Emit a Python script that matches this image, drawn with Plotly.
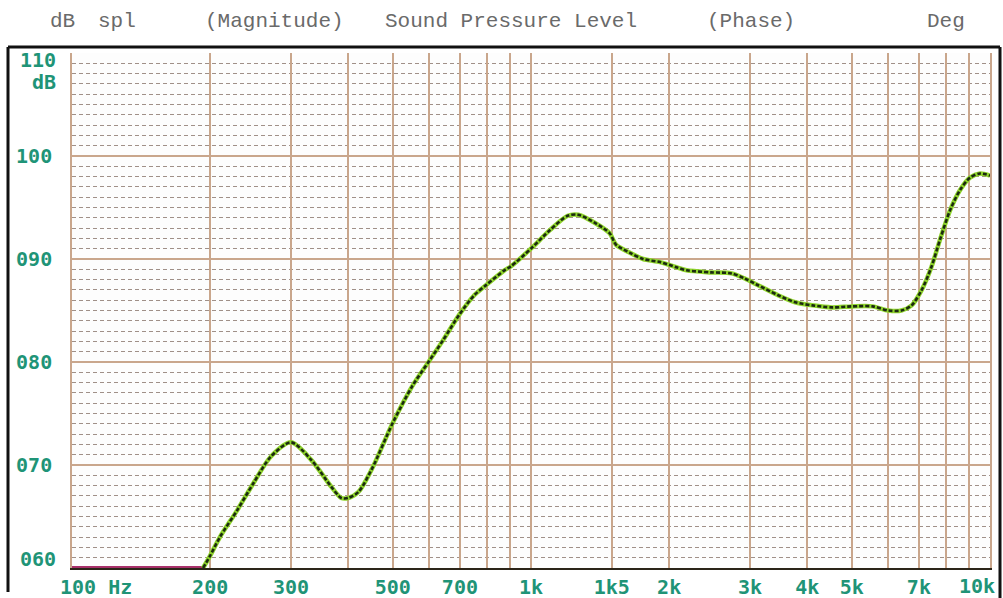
import math
import plotly.graph_objects as go

# ---------------- data ----------------
freq_hz = [193, 200, 210, 229, 249, 271, 300, 332, 367, 386, 400, 421, 450, 500,
           552, 600, 643, 698, 753, 800, 875, 905, 1005, 1099, 1202, 1267, 1379,
           1484, 1531, 1643, 1754, 1911, 2073, 2182, 2468, 2735, 2923, 3109, 3447,
           3763, 4100, 4529, 5000, 5553, 6000, 6413, 6750, 7100, 7450, 7810, 8197,
           8606, 9045, 9510, 10000]
spl_db = [60.0, 61.2, 63.0, 65.6, 68.3, 70.8, 72.2, 70.5, 67.9, 66.8, 66.8, 67.4,
          69.6, 74.1, 77.7, 80.1, 82.1, 84.6, 86.5, 87.5, 88.9, 89.3, 91.1, 92.8,
          94.2, 94.3, 93.5, 92.5, 91.4, 90.6, 90.0, 89.7, 89.2, 88.9, 88.7, 88.6,
          88.1, 87.5, 86.5, 85.8, 85.5, 85.3, 85.4, 85.4, 85.0, 85.0, 85.5, 87.0,
          89.2, 92.1, 94.8, 96.7, 97.9, 98.3, 98.1]

# portion below the chart floor (drawn on the 60 dB baseline)
below_freq_hz = [100, 193]
below_spl_db = [60, 60]

x_tick_vals = [100, 200, 300, 400, 500, 600, 700, 800, 900, 1000, 1500, 2000,
               3000, 4000, 5000, 6000, 7000, 8000, 9000, 10000]
x_tick_text = ["\u00a0\u00a0\u00a0\u00a0100 Hz", "200", "300", "", "500", "", "700", "", "",
               "1k", "1k5", "2k", "3k", "4k", "5k", "", "7k", "", "", "10k"]
y_tick_vals = [60, 70, 80, 90, 100, 110]
y_tick_text = ["060", "070", "080", "090", "100", "110"]
y_unit = "dB"
header_words = ["dB", "spl", "(Magnitude)", "Sound Pressure Level", "(Phase)", "Deg"]

# ---------------- style ----------------
W, H = 1003, 598
L, R, T, B = 72, 13, 53, 30
PW, PH = W - L - R, H - T - B
TEAL = "#1f9477"
GRID = "#c9a68c"
MINOR = "#a09088"
TEXT_FONT = "DejaVu Sans Mono"
TICK_FONT = dict(family=TEXT_FONT, size=20, color=TEAL, weight="bold")


def px_x(p):
    return (p - L) / PW


def px_y(p):
    return (H - B - p) / PH


fig = go.Figure()

fig.add_trace(go.Scatter(x=below_freq_hz, y=below_spl_db, mode="lines",
                         line=dict(color="#a8306a", width=4),
                         hoverinfo="skip", showlegend=False))
fig.add_trace(go.Scatter(x=freq_hz, y=spl_db, mode="lines",
                         line=dict(color="#8fd42c", width=4.5, shape="spline", smoothing=0.8),
                         hoverinfo="skip", showlegend=False))
fig.add_trace(go.Scatter(x=freq_hz, y=spl_db, mode="lines",
                         line=dict(color="#1b2a10", width=2.6, shape="spline", smoothing=0.8,
                                   dash="4px,2px"),
                         showlegend=False))

# end labels are placed as annotations so they stay inside the frame (as on the original)
x_axis_text = x_tick_text[:-1] + [""]
mid_text = [t if v not in (y_tick_vals[0], y_tick_vals[-1]) else "" for v, t in zip(y_tick_vals, y_tick_text)]

fig.update_xaxes(type="log", range=[2, 4], automargin=False,
                 tickmode="array", tickvals=x_tick_vals, ticktext=x_axis_text,
                 showgrid=True, gridcolor=GRID, gridwidth=1.6,
                 showline=True, linecolor="#2b2418", linewidth=2, mirror=False,
                 ticks="", zeroline=False, layer="below traces",
                 tickfont=TICK_FONT)
fig.update_yaxes(range=[60, 110], automargin=False,
                 tickmode="array", tickvals=y_tick_vals, ticktext=mid_text,
                 showgrid=True, gridcolor=GRID, gridwidth=1.6,
                 minor=dict(tick0=60, dtick=1, showgrid=True, gridcolor=MINOR,
                            griddash="4px,3px", gridwidth=1),
                 showline=True, linecolor=GRID, linewidth=1.6, mirror=True,
                 ticks="", zeroline=False, ticklabelstandoff=14,
                 tickfont=TICK_FONT)

annotations = [
    dict(x=px_x(58), y=y_tick_vals[-1], xref="paper", yref="y", text=y_tick_text[-1],
         showarrow=False, xanchor="right", yanchor="middle", yshift=-7, font=TICK_FONT),
    dict(x=px_x(58), y=y_tick_vals[-1], xref="paper", yref="y", text=y_unit,
         showarrow=False, xanchor="right", yanchor="middle", yshift=-29, font=TICK_FONT),
    dict(x=px_x(58), y=y_tick_vals[0], xref="paper", yref="y", text=y_tick_text[0],
         showarrow=False, xanchor="right", yanchor="middle", yshift=9, font=TICK_FONT),
    dict(x=math.log10(x_tick_vals[-1]), y=px_y(586), xref="x", yref="paper",
         text=x_tick_text[-1], showarrow=False, xanchor="right", yanchor="middle",
         xshift=7, font=TICK_FONT),
]
header_px = [62, 117, 274, 511, 751, 946]
for word, cx in zip(header_words, header_px):
    annotations.append(dict(x=px_x(cx), y=px_y(22), xref="paper", yref="paper",
                            text=word, showarrow=False, xanchor="center", yanchor="middle",
                            font=dict(family="Liberation Mono", size=21, color="#6a6a6a")))

frame = dict(type="line", xref="paper", yref="paper", line=dict(color="#111111", width=3))
shapes = [
    dict(frame, x0=px_x(8), x1=px_x(1000), y0=px_y(47), y1=px_y(47)),
    dict(frame, x0=px_x(8), x1=px_x(8), y0=px_y(47), y1=px_y(592)),
    dict(frame, x0=px_x(1000), x1=px_x(1000), y0=px_y(47), y1=px_y(598)),
]

fig.update_layout(width=W, height=H, margin=dict(l=L, r=R, t=T, b=B, pad=0, autoexpand=False),
                  paper_bgcolor="white", plot_bgcolor="#fdfdfd",
                  annotations=annotations, shapes=shapes, showlegend=False)

fig.write_html("out.html", config={"displayModeBar": False},
               post_script="document.body.style.margin='0';document.body.style.overflow='hidden';")
